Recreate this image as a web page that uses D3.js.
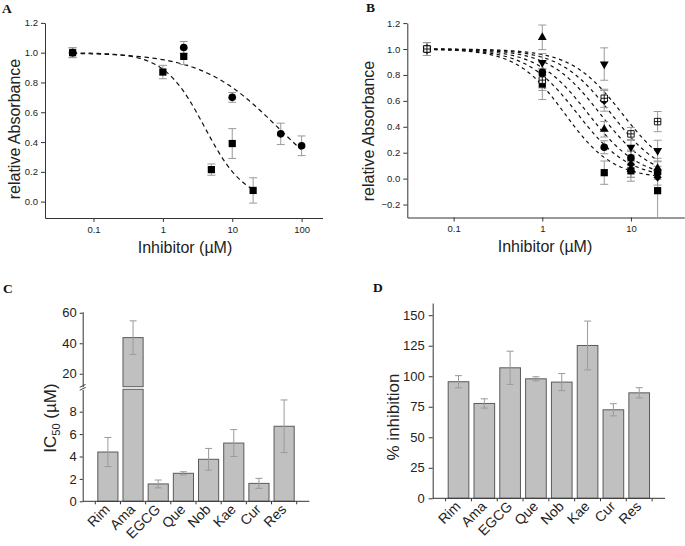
<!DOCTYPE html>
<html>
<head>
<meta charset="utf-8">
<script src="https://cdn.jsdelivr.net/npm/d3@7"></script>
<style>
  body { margin: 0; background: #fff; }
  svg text { font-family: "Liberation Sans", Arial, sans-serif; fill: #222; }
  svg text.panel-label { font-family: "Liberation Serif", "Times New Roman", serif; font-weight: bold; font-size: 13.5px; fill: #111; }
</style>
</head>
<body>
<svg id="chart" width="685" height="546"></svg>
<script>
// ---- panel A : dose response of Rim (squares) and Ama (circles)
const rimConc = [0.05, 1, 2, 5, 10, 20];
const rimAbs  = [1.0, 0.87, 0.975, 0.215, 0.39, 0.075];
const rimErr  = [0.033, 0.045, 0.055, 0.038, 0.10, 0.085];
const amaConc = [0.05, 2, 10, 50, 100];
const amaAbs  = [1.0, 1.035, 0.70, 0.455, 0.375];
const amaErr  = [0.033, 0.04, 0.033, 0.072, 0.066];
// fitted logistic curves (IC50, hill slope, last conc)
const fitIC50A = [4.0, 45];
const fitHillA = [1.5, 0.79];
const fitEndA  = [20, 100];

// ---- panel B : six other inhibitors
const concB = [0.05, 1, 5, 10, 20];
const bSquare   = [1.0, 0.73, 0.046, 0.06, -0.093];
const bSquareE  = [0.05, 0.12, 0.09, 0.08, 0.25];
const bCircle   = [1.0, 0.82, 0.242, 0.16, 0.045];
const bCircleE  = [0.05, 0.08, 0.05, 0.06, 0.05];
const bTriUp    = [1.0, 1.09, 0.381, 0.07, 0.08];
const bTriUpE   = [0.05, 0.095, 0.06, 0.06, 0.05];
const bDiamond  = [1.0, 0.80, 0.60, 0.11, 0.01];
const bDiamondE = [0.05, 0.10, 0.08, 0.10, 0.06];
const bTriDown  = [1.0, 0.895, 0.884, 0.242, 0.216];
const bTriDownE = [0.05, 0.07, 0.125, 0.06, 0.08];
const bSqCross  = [1.0, 0.76, 0.62, 0.345, 0.44];
const bSqCrossE = [0.05, 0.08, 0.07, 0.05, 0.078];
const fitIC50B = [1.8, 2.5, 3.3, 4.5, 6.0, 8.0];
const fitHillB = [1.6, 1.5, 1.5, 1.5, 1.5, 1.5];

// ---- panels C and D : bars
const compounds = ["Rim", "Ama", "EGCG", "Que", "Nob", "Kae", "Cur", "Res"];
const ic50      = [4.4, 43.7, 1.55, 2.5, 3.75, 5.2, 1.6, 6.7];
const ic50Err   = [1.3, 11, 0.35, 0.14, 0.97, 1.2, 0.45, 2.35];
const inhib     = [95.5, 77.7, 106.9, 97.9, 95.2, 125.2, 72.5, 86.4];
const inhibErr  = [5, 3.8, 13.6, 1.7, 7, 20, 5, 4.2];

// tick labels
const xTicksA = [0.1, 1, 10, 100];
const yTicksA = [0, 0.2, 0.4, 0.6, 0.8, 1.0, 1.2];
const xTicksB = [0.1, 1, 10];
const yTicksB = [-0.2, 0, 0.2, 0.4, 0.6, 0.8, 1.0, 1.2];
const yTicksCLow  = [0, 2, 4, 6, 8];
const yTicksCHigh = [20, 40, 60];
const yTicksD = [0, 25, 50, 75, 100, 125, 150];

const svg = d3.select("#chart");
const axisColor = "#333";
const errColor = "#9a9a9a";
const barFill = "#c0c0c0";
const barStroke = "#5a5a5a";

function styleAxis(g, fs) {
  g.attr("font-family", null).attr("font-size", null);
  g.selectAll("path.domain").attr("stroke", axisColor).attr("stroke-width", 1);
  g.selectAll(".tick line").attr("stroke", axisColor);
  g.selectAll(".tick text").attr("fill", "#222").style("font-size", fs);
  return g;
}

// log minor ticks (2..9 x decade) inside a domain
function logMinor(lo, hi) {
  const out = [];
  for (let e = Math.floor(Math.log10(lo)); e <= Math.ceil(Math.log10(hi)); e++) {
    for (let m = 2; m <= 9; m++) {
      const v = m * Math.pow(10, e);
      if (v >= lo * 0.999 && v <= hi * 1.001) out.push(v);
    }
  }
  return out;
}

function drawMarker(g, shape, cx, cy) {
  const t = `translate(${cx},${cy})`;
  if (shape === "sq") {
    g.append("path").attr("d", d3.symbol(d3.symbolSquare, 52)()).attr("transform", t).attr("fill", "#000");
  } else if (shape === "circ") {
    g.append("path").attr("d", d3.symbol(d3.symbolCircle, 46)()).attr("transform", t).attr("fill", "#000");
  } else if (shape === "tri") {
    g.append("path").attr("d", d3.symbol(d3.symbolTriangle, 34)()).attr("transform", t).attr("fill", "#000");
  } else if (shape === "tridown") {
    g.append("path").attr("d", d3.symbol(d3.symbolTriangle, 34)()).attr("transform", t + " rotate(180)").attr("fill", "#000");
  } else if (shape === "diam") {
    g.append("path").attr("d", d3.symbol(d3.symbolSquare, 34)()).attr("transform", t + " rotate(45)").attr("fill", "#000");
  } else if (shape === "sqcross") {
    // open square with a grid cross
    const m = g.append("g").attr("transform", t).attr("stroke", "#000").attr("stroke-width", 0.9);
    m.append("path").attr("d", d3.symbol(d3.symbolSquare, 42)()).attr("fill", "#fff");
    m.append("line").attr("x1", -3.2).attr("x2", 3.2).attr("y1", 0).attr("y2", 0);
    m.append("line").attr("x1", 0).attr("x2", 0).attr("y1", -3.2).attr("y2", 3.2);
  }
}

function dosePanel(p) {
  const x = d3.scaleLog().domain(p.xDomain).range([p.left, p.right]);
  const y = d3.scaleLinear().domain(p.yDomain).range([p.bottom, p.top]);
  const g = svg.append("g");

  // axes
  const gx = g.append("g").attr("transform", `translate(0,${p.bottom})`);
  gx.call(d3.axisBottom(x).tickValues(logMinor(...p.xDomain)).tickSize(2).tickFormat("").tickSizeOuter(0));
  gx.call(d3.axisBottom(x).tickValues(p.xTicks).tickSize(4).tickPadding(4).tickSizeOuter(0).tickFormat(d => String(d)));
  styleAxis(gx, "9.5px");
  const gy = g.append("g").attr("transform", `translate(${p.left},0)`);
  gy.call(d3.axisLeft(y).tickValues(p.yMinor).tickSize(2).tickFormat("").tickSizeOuter(0));
  gy.call(d3.axisLeft(y).tickValues(p.yTicks).tickSize(4).tickPadding(3).tickSizeOuter(0).tickFormat(d3.format(".1f")));
  styleAxis(gy, "9.5px");

  // fitted curves
  const line = d3.line().x(d => x(d[0])).y(d => y(d[1]));
  p.fits.forEach(f => {
    const pts = d3.range(0, 121).map(i => {
      const c = p.fitStart * Math.pow(f.end / p.fitStart, i / 120);
      return [c, 1 / (1 + Math.pow(c / f.ic50, f.hill))];
    });
    g.append("path").attr("d", line(pts)).attr("fill", "none")
      .attr("stroke", "#111").attr("stroke-width", 1.2).attr("stroke-dasharray", p.dash);
  });

  // error bars
  p.series.forEach(s => {
    s.conc.forEach((c, i) => {
      const cx = x(c);
      const y1 = Math.max(p.top, y(s.val[i] + s.err[i]));
      const y2 = Math.min(p.bottom, y(s.val[i] - s.err[i]));
      const eb = g.append("g").attr("stroke", errColor).attr("stroke-width", 1);
      eb.append("line").attr("x1", cx).attr("x2", cx).attr("y1", y1).attr("y2", y2);
      if (y(s.val[i] + s.err[i]) >= p.top)
        eb.append("line").attr("x1", cx - 4).attr("x2", cx + 4).attr("y1", y1).attr("y2", y1);
      if (y(s.val[i] - s.err[i]) <= p.bottom)
        eb.append("line").attr("x1", cx - 4).attr("x2", cx + 4).attr("y1", y2).attr("y2", y2);
    });
  });
  // markers
  p.series.forEach(s => {
    s.conc.forEach((c, i) => drawMarker(g, s.shape, x(c), y(s.val[i])));
  });

  // titles
  g.append("text").attr("transform", `translate(${p.yTitle[0]},${p.yTitle[1]}) rotate(-90)`)
    .attr("text-anchor", "middle").attr("dy", "0.35em").style("font-size", "16px").text("relative Absorbance");
  g.append("text").attr("x", p.xTitle[0]).attr("y", p.xTitle[1])
    .attr("text-anchor", "middle").style("font-size", "16px").text("Inhibitor (µM)");
}

// ---- panel A
dosePanel({
  xDomain: [0.02, 200], yDomain: [-0.11, 1.2],
  left: 45, right: 322.5, top: 22.9, bottom: 218,
  xTicks: xTicksA, yTicks: yTicksA,
  yMinor: [-0.1, 0.1, 0.3, 0.5, 0.7, 0.9, 1.1],
  fitStart: 0.05, dash: "4.5,3.5",
  fits: fitIC50A.map((ic, i) => ({ ic50: ic, hill: fitHillA[i], end: fitEndA[i] })),
  series: [
    { conc: rimConc, val: rimAbs, err: rimErr, shape: "sq" },
    { conc: amaConc, val: amaAbs, err: amaErr, shape: "circ" }
  ],
  yTitle: [14, 129], xTitle: [185, 253]
});

// ---- panel B
const seriesB = [
  [bSquare, bSquareE, "sq"], [bCircle, bCircleE, "circ"], [bTriUp, bTriUpE, "tri"],
  [bDiamond, bDiamondE, "diam"], [bTriDown, bTriDownE, "tridown"], [bSqCross, bSqCrossE, "sqcross"]
];
dosePanel({
  xDomain: [0.03, 40], yDomain: [-0.3, 1.2],
  left: 407.3, right: 684.3, top: 23.1, bottom: 217.5,
  xTicks: xTicksB, yTicks: yTicksB,
  yMinor: [-0.3, -0.1, 0.1, 0.3, 0.5, 0.7, 0.9, 1.1],
  fitStart: 0.05, dash: "3.5,3.5",
  fits: fitIC50B.map((ic, i) => ({ ic50: ic, hill: fitHillB[i], end: 20 })),
  series: seriesB.map(s => ({ conc: concB, val: s[0], err: s[1], shape: s[2] })),
  yTitle: [368, 131], xTitle: [545, 252]
});

// ---- bar helpers
function barXAxis(g, x, axisY, left, right) {
  g.append("line").attr("x1", left).attr("x2", right).attr("y1", axisY).attr("y2", axisY)
    .attr("stroke", axisColor);
  const step = x.step();
  const bounds = compounds.map(c => x(c) + x.bandwidth() / 2 - step / 2)
    .concat([x(compounds[compounds.length - 1]) + x.bandwidth() / 2 + step / 2]);
  bounds.forEach(b => {
    g.append("line").attr("x1", b).attr("x2", b).attr("y1", axisY).attr("y2", axisY + 3)
      .attr("stroke", axisColor);
  });
  compounds.forEach(c => {
    const lg = g.append("g")
      .attr("transform", `translate(${x(c) + x.bandwidth() / 2},${axisY + 6})`);
    lg.append("text")
      .attr("transform", "rotate(-45)")
      .attr("text-anchor", "end").attr("dy", "0.3em")
      .style("font-size", "14px").text(c);
  });
}

function errBar(g, cx, y1, y2) {
  const eb = g.append("g").attr("stroke", errColor).attr("stroke-width", 1);
  eb.append("line").attr("x1", cx).attr("x2", cx).attr("y1", y1).attr("y2", y2);
  eb.append("line").attr("x1", cx - 3.5).attr("x2", cx + 3.5).attr("y1", y1).attr("y2", y1);
  eb.append("line").attr("x1", cx - 3.5).attr("x2", cx + 3.5).attr("y1", y2).attr("y2", y2);
}

// ---- panel C (broken y axis)
{
  const g = svg.append("g");
  const left = 82.7, right = 309.3, axisY = 501.3;
  const x = d3.scaleBand().domain(compounds).range([left, right]).paddingInner(0.2).paddingOuter(0.6);
  const yLo = d3.scaleLinear().domain([0, 10]).range([axisY, 389.3]);
  const yHi = d3.scaleLinear().domain([11.5, 60.7]).range([386.7, 311.7]);
  const yOf = v => (v <= 10 ? yLo(v) : yHi(v));

  compounds.forEach((c, i) => {
    const v = ic50[i];
    if (v <= 10) {
      g.append("rect").attr("x", x(c)).attr("width", x.bandwidth())
        .attr("y", yLo(v)).attr("height", yLo(0) - yLo(v))
        .attr("fill", barFill).attr("stroke", barStroke);
    } else {
      g.append("rect").attr("x", x(c)).attr("width", x.bandwidth())
        .attr("y", yLo(10)).attr("height", yLo(0) - yLo(10))
        .attr("fill", barFill).attr("stroke", barStroke);
      g.append("rect").attr("x", x(c)).attr("width", x.bandwidth())
        .attr("y", yHi(v)).attr("height", yHi(11.5) - yHi(v))
        .attr("fill", barFill).attr("stroke", barStroke);
    }
  });
  compounds.forEach((c, i) => {
    errBar(g, x(c) + x.bandwidth() / 2, yOf(ic50[i] + ic50Err[i]), yOf(ic50[i] - ic50Err[i]));
  });

  const gl = g.append("g").attr("transform", `translate(${left},0)`);
  gl.call(d3.axisLeft(yLo).tickValues([1, 3, 5, 7, 9]).tickSize(2).tickFormat("").tickSizeOuter(0));
  gl.call(d3.axisLeft(yLo).tickValues(yTicksCLow).tickSize(3).tickPadding(3).tickSizeOuter(0));
  styleAxis(gl, "13px");
  const gh = g.append("g").attr("transform", `translate(${left},0)`);
  gh.call(d3.axisLeft(yHi).tickValues([30, 50]).tickSize(2).tickFormat("").tickSizeOuter(0));
  gh.call(d3.axisLeft(yHi).tickValues(yTicksCHigh).tickSize(3).tickPadding(3).tickSizeOuter(0));
  styleAxis(gh, "13px");
  // axis break marks
  [385.8, 388.8].forEach(yy => {
    g.append("line").attr("x1", left - 3).attr("x2", left + 3).attr("y1", yy + 1.5).attr("y2", yy - 1.5)
      .attr("stroke", axisColor).attr("stroke-width", 0.9);
  });

  barXAxis(g, x, axisY, left, right);

  const t = g.append("text").attr("transform", "translate(50,418) rotate(-90)")
    .attr("text-anchor", "middle").attr("dy", "0.35em").style("font-size", "17px");
  t.append("tspan").text("IC");
  t.append("tspan").style("font-size", "11px").attr("dy", "4").text("50");
  t.append("tspan").attr("dy", "-4").text(" (µM)");
}

// ---- panel D
{
  const g = svg.append("g");
  const left = 432.7, right = 665, axisY = 498.3;
  const x = d3.scaleBand().domain(compounds).range([left, right]).paddingInner(0.2).paddingOuter(0.6);
  const y = d3.scaleLinear().domain([0, 160]).range([axisY, 303]);

  g.selectAll(null).data(compounds).join("rect")
    .attr("x", d => x(d)).attr("width", x.bandwidth())
    .attr("y", (d, i) => y(inhib[i])).attr("height", (d, i) => y(0) - y(inhib[i]))
    .attr("fill", barFill).attr("stroke", barStroke);
  compounds.forEach((c, i) => {
    errBar(g, x(c) + x.bandwidth() / 2, y(inhib[i] + inhibErr[i]), y(inhib[i] - inhibErr[i]));
  });

  const gy = g.append("g").attr("transform", `translate(${left},0)`);
  gy.call(d3.axisLeft(y).tickValues([12.5, 37.5, 62.5, 87.5, 112.5, 137.5]).tickSize(2).tickFormat("").tickSizeOuter(0));
  gy.call(d3.axisLeft(y).tickValues(yTicksD).tickSize(4).tickPadding(4).tickSizeOuter(0));
  styleAxis(gy, "13px");

  barXAxis(g, x, axisY, left, right);

  g.append("text").attr("transform", "translate(393,417) rotate(-90)")
    .attr("text-anchor", "middle").attr("dy", "0.35em").style("font-size", "17px").text("% inhibition");
}

// panel letters
[["A", 2, 13], ["B", 366, 12], ["C", 3, 293], ["D", 373, 291.5]].forEach(l => {
  svg.append("text").attr("class", "panel-label").attr("x", l[1]).attr("y", l[2]).text(l[0]);
});
</script>
</body>
</html>
